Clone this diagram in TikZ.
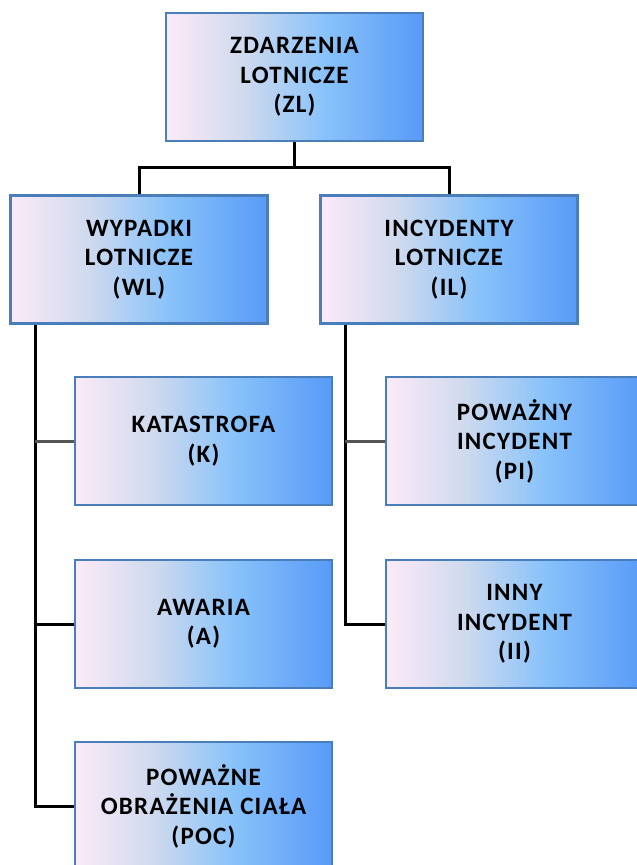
\documentclass[tikz,border=0pt]{standalone}
\usepackage{fontspec}
\setmainfont{Carlito}
\newfontfamily\boxfont[LetterSpace=5]{Carlito}
\definecolor{shA}{RGB}{252,234,248}
\definecolor{shB}{RGB}{208,218,238}
\definecolor{shC}{RGB}{136,194,250}
\definecolor{shD}{RGB}{88,154,248}
\definecolor{boxline}{RGB}{74,126,187}
\definecolor{stub}{RGB}{85,85,85}
% the path spans 25bp..75bp of a horizontal shading
\pgfdeclarehorizontalshading{boxshade}{100bp}{color(0bp)=(shA); color(25bp)=(shA); color(40bp)=(shB); color(56bp)=(shC); color(75bp)=(shD); color(100bp)=(shD)}
\tikzset{
  box/.style={draw=boxline, line width=2.5pt, shading=boxshade,
    minimum width=257pt, minimum height=128pt, inner sep=0pt,
    align=center, font=\boxfont\fontsize{25}{29.5}\selectfont\bfseries},
  link/.style={line width=3pt, black},
  stubline/.style={line width=3pt, stub}
}
\begin{document}
\begin{tikzpicture}[x=1pt, y=-1pt]
\useasboundingbox[fill=white] (0,0) rectangle (637,865);

% top level
\node[box] (zl) at (294.5,77) {ZDARZENIA\\LOTNICZE\\(ZL)};

% second level
\node[box] (wl) at (139,259.5) {WYPADKI\\LOTNICZE\\(WL)};
\node[box] (il) at (449,259.5) {INCYDENTY\\LOTNICZE\\(IL)};

% accident types
\node[box] (k)   at (203.5,441) {KATASTROFA\\(K)};
\node[box] (a)   at (203.5,624) {AWARIA\\(A)};
\node[box] (poc) at (203.5,806) {POWAŻNE\\OBRAŻENIA CIAŁA\\(POC)};

% incident types
\node[box] (pi) at (514.5,441) {POWAŻNY\\INCYDENT\\(PI)};
\node[box] (ii) at (514.5,624) {INNY\\INCYDENT\\(II)};

% bus from the top box to the second level
\draw[link] (zl.south) -- ++(0,25) coordinate (bus);
\draw[link] (wl.north) |- (bus) -| (il.north);

% trunk under accidents
\coordinate (wt) at ([xshift=26pt]wl.south west);
\draw[link] (wt) |- (poc.west);
\draw[stubline] (wt |- k.west) -- (k.west);
\draw[link] (wt |- a.west) -- (a.west);

% trunk under incidents
\coordinate (it) at ([xshift=26pt]il.south west);
\draw[link] (it) |- (ii.west);
\draw[stubline] (it |- pi.west) -- (pi.west);
\end{tikzpicture}
\end{document}
